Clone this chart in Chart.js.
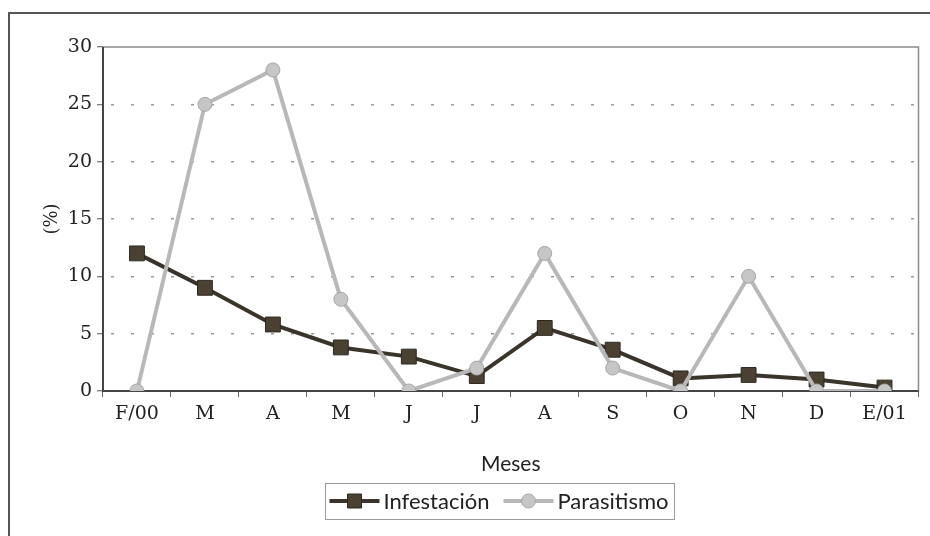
<!doctype html>
<html>
<head>
<title>Infestación y parasitismo</title>
<script src="https://cdn.jsdelivr.net/npm/chart.js@4.4.1/dist/chart.umd.min.js"></script>
<style>
body { margin: 0; background: #fff; }
#container { width: 930px; height: 536px; }
</style>
</head>
<body>
	<div id="container">
		<canvas id="canvas" width="930" height="536"></canvas>
	</div>

	<script>
		var meses = ['F/00', 'M', 'A', 'M', 'J', 'J', 'A', 'S', 'O', 'N', 'D', 'E/01'];
		var infestacion = [12, 9, 5.8, 3.8, 3, 1.3, 5.5, 3.6, 1.1, 1.4, 1.0, 0.3];
		var parasitismo = [0, 25, 28, 8, 0, 2, 12, 2, 0, 10, 0, 0];
		var yTicks = [0, 5, 10, 15, 20, 25, 30];

		var serifFont = "'DejaVu Serif', serif";
		var sansFont = "Lato, 'Open Sans', sans-serif";

		// frame, plot border and the legend box are drawn by hand
		var decorPlugin = {
			id: 'decor',
			beforeDraw: function(chart) {
				var ctx = chart.ctx;
				ctx.save();
				ctx.fillStyle = '#fff';
				ctx.fillRect(0, 0, chart.width, chart.height);
				ctx.strokeStyle = '#555';
				ctx.lineWidth = 2;
				ctx.beginPath();
				ctx.moveTo(9, chart.height);
				ctx.lineTo(9, 13);
				ctx.lineTo(chart.width, 13);
				ctx.stroke();
				ctx.restore();
			},
			beforeDatasetsDraw: function(chart) {
				var a = chart.chartArea;
				var ctx = chart.ctx;
				ctx.save();
				ctx.strokeStyle = '#8a8a8a';
				ctx.lineWidth = 1.5;
				ctx.strokeRect(a.left, a.top, a.right - a.left, a.bottom - a.top);
				ctx.strokeStyle = '#444';
				ctx.lineWidth = 2;
				ctx.beginPath();
				ctx.moveTo(a.left, a.top);
				ctx.lineTo(a.left, a.bottom);
				ctx.lineTo(a.right, a.bottom);
				ctx.stroke();
				ctx.restore();
			},
			afterDraw: function(chart) {
				var ctx = chart.ctx;
				var sets = chart.data.datasets;
				ctx.save();
				ctx.font = '22px ' + sansFont;
				var lineLen = 50, gap = 4, itemGap = 14, pad = 5;
				var total = 0;
				sets.forEach(function(ds, i) {
					total += lineLen + gap + ctx.measureText(ds.label).width;
					if (i > 0) total += itemGap;
				});
				var cx = 499, cy = 501;
				var x = cx - total / 2;
				ctx.strokeStyle = '#999';
				ctx.lineWidth = 1;
				ctx.strokeRect(Math.round(x - pad) + 0.5, 483.5, Math.round(total + pad * 2), 36);
				ctx.textBaseline = 'middle';
				sets.forEach(function(ds, i) {
					ctx.strokeStyle = ds.borderColor;
					ctx.lineWidth = ds.borderWidth;
					ctx.beginPath();
					ctx.moveTo(x, cy);
					ctx.lineTo(x + lineLen, cy);
					ctx.stroke();
					ctx.fillStyle = ds.pointBackgroundColor;
					ctx.strokeStyle = ds.pointBorderColor;
					ctx.lineWidth = 1;
					ctx.beginPath();
					if (ds.pointStyle === 'rect') {
						ctx.rect(x + lineLen / 2 - 7, cy - 7, 14, 14);
					} else {
						ctx.arc(x + lineLen / 2, cy, 7, 0, Math.PI * 2);
					}
					ctx.fill();
					ctx.stroke();
					ctx.fillStyle = '#222';
					ctx.fillText(ds.label, x + lineLen + gap, cy + 1);
					x += lineLen + gap + ctx.measureText(ds.label).width + itemGap;
				});
				ctx.restore();
			}
		};

		var ctx = document.getElementById('canvas').getContext('2d');
		window.myChart = new Chart(ctx, {
			type: 'line',
			data: {
				labels: meses,
				datasets: [
					{
						label: 'Infestación',
						data: infestacion,
						order: 1,
						borderColor: '#3a342b',
						borderWidth: 4,
						pointStyle: 'rect',
						pointRadius: 10.5,
						pointBackgroundColor: '#4b4132',
						pointBorderColor: '#2c2820',
						pointBorderWidth: 1,
						tension: 0
					},
					{
						label: 'Parasitismo',
						data: parasitismo,
						order: 0,
						borderColor: '#b8b8b8',
						borderWidth: 4,
						pointStyle: 'circle',
						pointRadius: 7,
						pointBackgroundColor: '#c6c6c6',
						pointBorderColor: '#a6a6a6',
						pointBorderWidth: 1,
						tension: 0
					}
				]
			},
			options: {
				responsive: false,
				animation: false,
				layout: { padding: { top: 47, right: 10, bottom: 0, left: 0 } },
				plugins: {
					legend: { display: false },
					tooltip: { enabled: false }
				},
				scales: {
					x: {
						offset: true,
						grid: {
							offset: true,
							drawOnChartArea: false,
							tickLength: 6,
							tickColor: '#666',
							tickWidth: 1
						},
						border: { display: false },
						ticks: {
							color: '#222',
							font: { family: serifFont, size: 19 },
							padding: 6,
							maxRotation: 0,
							autoSkip: false
						},
						title: {
							display: true,
							text: 'Meses',
							color: '#222',
							font: { family: sansFont, size: 21 },
							padding: { top: 0, bottom: 59 }
						},
						afterFit: function(scale) { scale.height = 145; }
					},
					y: {
						min: 0,
						max: 30,
						afterBuildTicks: function(scale) {
							scale.ticks = yTicks.map(function(v) { return { value: v }; });
						},
						grid: {
							color: function(c) {
								var v = c.tick ? c.tick.value : 0;
								return (v === 0 || v === 30) ? 'rgba(0,0,0,0)' : '#9a9a9a';
							},
							lineWidth: 1.5,
							tickLength: 6,
							tickColor: '#555',
							tickWidth: 1
						},
						border: { display: false, dash: [3, 17], dashOffset: -8 },
						ticks: {
							color: '#222',
							font: { family: serifFont, size: 19 },
							padding: 5
						},
						title: {
							display: true,
							text: '(%)',
							color: '#222',
							font: { family: serifFont, size: 18 },
							padding: { top: 42, bottom: 0 }
						},
						afterFit: function(scale) { scale.width = 103; }
					}
				}
			},
			plugins: [decorPlugin]
		});
	</script>
</body>
</html>
